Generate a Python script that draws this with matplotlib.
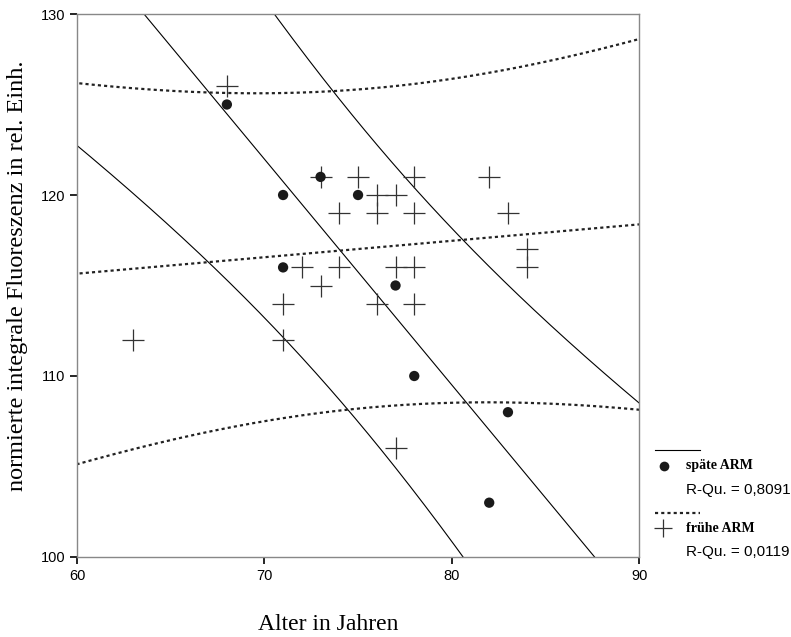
import numpy as np
import matplotlib.pyplot as plt
from matplotlib.lines import Line2D

# --- Data ---
# späte ARM (filled dots)
spaet_alter = [68, 71, 73, 75, 71, 77, 78, 83, 82]
spaet_fluor = [125, 120, 121, 120, 116, 115, 110, 108, 103]

# frühe ARM (crosses)
frueh_alter = [68, 73, 75, 78, 82, 76, 77, 74, 76, 78, 83, 84,
               72, 74, 77, 78, 84, 73, 71, 76, 78, 63, 71, 77]
frueh_fluor = [126, 121, 121, 121, 121, 120, 120, 119, 119, 119, 119, 117,
               116, 116, 116, 116, 116, 115, 114, 114, 114, 112, 112, 106]

r2_labels = ["R-Qu. = 0,8091", "R-Qu. = 0,0119"]
group_labels = ["späte ARM", "frühe ARM"]

# two-sided 95% t quantiles for the residual degrees of freedom
t975 = {7: 2.365, 22: 2.074}


def fit_with_pi(x, y, xs):
    """Linear fit plus 95% prediction interval for single values."""
    x = np.asarray(x, float)
    y = np.asarray(y, float)
    n = len(x)
    b, a = np.polyfit(x, y, 1)
    resid = y - (a + b * x)
    s = np.sqrt(np.sum(resid ** 2) / (n - 2))
    sxx = np.sum((x - x.mean()) ** 2)
    hw = t975[n - 2] * s * np.sqrt(1 + 1 / n + (xs - x.mean()) ** 2 / sxx)
    fit = a + b * xs
    return fit, fit - hw, fit + hw


xs = np.linspace(55, 95, 400)

fig = plt.figure(figsize=(7.91, 6.37), dpi=100)
ax = fig.add_axes([0.0973, 0.1256, 0.7107, 0.8524])

# späte ARM: solid lines
fit, lo, hi = fit_with_pi(spaet_alter, spaet_fluor, xs)
for yy in (fit, lo, hi):
    ax.plot(xs, yy, color="black", linewidth=0.8)

# frühe ARM: dotted lines
fit, lo, hi = fit_with_pi(frueh_alter, frueh_fluor, xs)
for yy in (fit, lo, hi):
    ax.plot(xs, yy, color="#222222", linewidth=1.6, linestyle=(0, (1.4, 1.4)))

ax.scatter(frueh_alter, frueh_fluor, marker="+", s=260, color="#333333",
           linewidths=0.9, zorder=3)
ax.scatter(spaet_alter, spaet_fluor, marker="o", s=55, color="#1a1a1a",
           edgecolors="none", zorder=4)

ax.set_xlim(60, 90)
ax.set_ylim(100, 130)
ax.set_xticks([60, 70, 80, 90])
ax.set_yticks([100, 110, 120, 130])
ax.tick_params(direction="out", length=5, width=1.2, labelsize=10.5,
               colors="black")
for lab in ax.get_xticklabels() + ax.get_yticklabels():
    lab.set_family("Liberation Sans")
for sp in ax.spines.values():
    sp.set_color("#888888")
    sp.set_linewidth(1.0)

fig.text(0.415, 1 - 624 / 637, "Alter in Jahren", family="Liberation Serif",
         fontsize=17, ha="center", va="center")
fig.text(0.022, 0.567, "normierte integrale Fluoreszenz in rel. Einh.",
         family="Liberation Serif", fontsize=17.5, rotation=90,
         ha="center", va="center")

# --- Legend to the right of the plot ---
W, H = 791, 637


def fx(px):
    return px / W


def fy(py):
    return 1 - py / H


fig.add_artist(Line2D([fx(655), fx(700)], [fy(450), fy(450)],
                      transform=fig.transFigure, color="black", linewidth=0.8))
fig.add_artist(Line2D([fx(664)], [fy(466)], transform=fig.transFigure,
                      marker="o", markersize=7, color="#1a1a1a",
                      markeredgewidth=0, linestyle="none"))
fig.text(fx(686), fy(466), group_labels[0], family="Liberation Serif",
         fontweight="bold", fontsize=10, va="center")
fig.text(fx(686), fy(490), r2_labels[0], family="Liberation Sans",
         fontsize=11, va="center")

fig.add_artist(Line2D([fx(655), fx(700)], [fy(513), fy(513)],
                      transform=fig.transFigure, color="#222222",
                      linewidth=1.6, linestyle=(0, (1.4, 1.4))))
fig.add_artist(Line2D([fx(663)], [fy(528)], transform=fig.transFigure,
                      marker="+", markersize=13, color="#333333",
                      markeredgewidth=0.9, linestyle="none"))
fig.text(fx(686), fy(528), group_labels[1], family="Liberation Serif",
         fontweight="bold", fontsize=10, va="center")
fig.text(fx(686), fy(552), r2_labels[1], family="Liberation Sans",
         fontsize=11, va="center")

fig.savefig("out.png", dpi=100)
plt.close(fig)
